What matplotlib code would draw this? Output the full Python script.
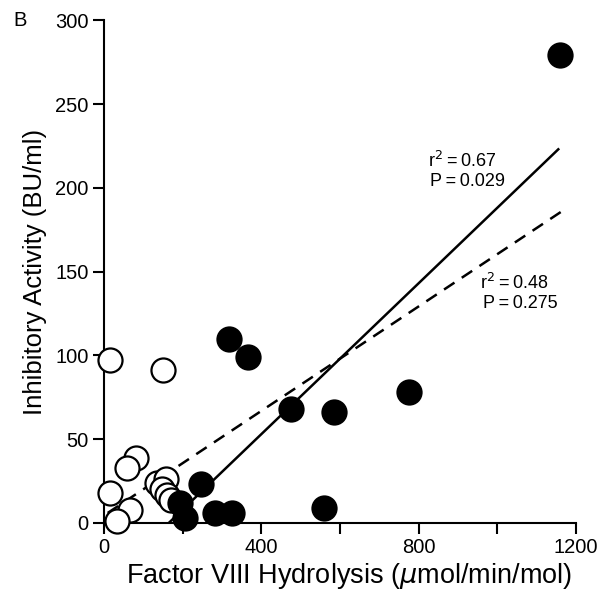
import numpy as np
import matplotlib
matplotlib.use("Agg")
import matplotlib.pyplot as plt

plt.rcParams['font.family'] = ['Liberation Sans', 'DejaVu Sans']
plt.rcParams['mathtext.fontset'] = 'dejavusans'

# open circles
open_x = [17, 151, 83, 59, 17, 66, 34, 135, 158, 148, 160, 170]
open_y = [97, 91, 39, 33, 18, 8, 1, 24, 26, 20, 17, 14]

# filled circles
fill_x = [1159, 319, 367, 477, 585, 776, 246, 559, 282, 325, 206, 193]
fill_y = [279, 110, 99, 68, 66, 78, 23, 9, 6, 6, 3, 12]

# regression lines (start/end x, fitted y)
solid_x = [165, 1155]
solid_y = [0, 223]
dash_x = [10, 1164]
dash_y = [6, 186]

fig = plt.figure(figsize=(6, 5.96), dpi=100)
ax = fig.add_axes([0.173, 0.1225, 0.787, 0.8435])

ax.plot(solid_x, solid_y, color='black', lw=1.8, zorder=2)
ax.plot(dash_x, dash_y, color='black', lw=1.8, ls=(0, (5, 3.5)), zorder=2)

ax.scatter(open_x, open_y, s=300, facecolor='white', edgecolor='black',
           linewidth=1.6, zorder=3, clip_on=False)
ax.scatter(fill_x, fill_y, s=300, facecolor='black', edgecolor='black',
           linewidth=1.6, zorder=4, clip_on=False)

ax.text(824, 216, 'r$^2$\u2009=\u20090.67', fontsize=13, va='center')
ax.text(829, 204, 'P\u2009=\u20090.029', fontsize=13, va='center')
ax.text(956, 143, 'r$^2$\u2009=\u20090.48', fontsize=13, va='center')
ax.text(963, 131, 'P\u2009=\u20090.275', fontsize=13, va='center')

ax.set_xlim(0, 1200)
ax.set_ylim(0, 300)
ax.set_xticks([0, 400, 800, 1200])
ax.set_xticks([200, 600, 1000], minor=True)
ax.set_yticks(np.arange(0, 301, 50))

for s in ['top', 'right']:
    ax.spines[s].set_visible(False)
for s in ['left', 'bottom']:
    ax.spines[s].set_linewidth(1.5)

ax.tick_params(which='both', direction='out', length=8, width=1.5,
               labelsize=14.5, pad=3)

ax.set_xlabel('Factor VIII Hydrolysis ($\\mu$mol/min/mol)', fontsize=19.5, labelpad=6)
ax.xaxis.set_label_coords(0.52, -0.075)
ax.set_ylabel('Inhibitory Activity (BU/ml)', fontsize=18.5, labelpad=6)

fig.text(0.022, 0.966, 'B', fontsize=14.5, va='center')

fig.savefig('out.png', dpi=100)
